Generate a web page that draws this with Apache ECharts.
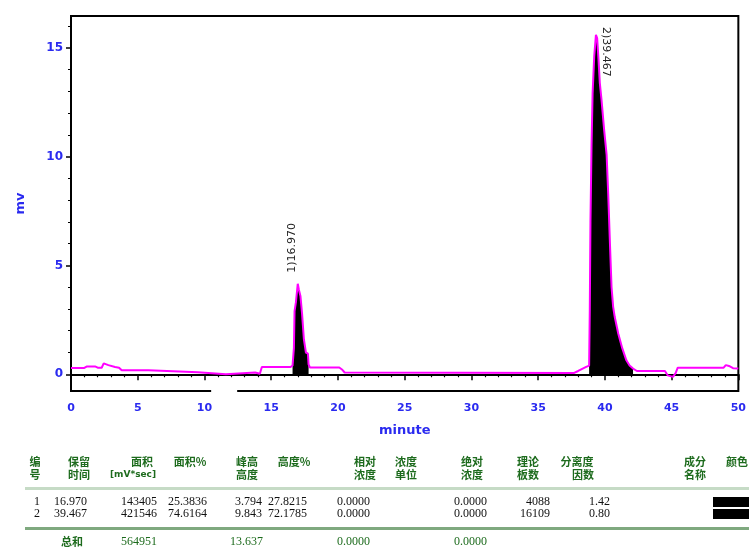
<!DOCTYPE html>
<html><head><meta charset="utf-8">
<script src="https://cdn.jsdelivr.net/npm/echarts@6/dist/echarts.min.js"></script>
<style>html,body{margin:0;padding:0;background:#fff}#c{width:749px;height:547px}</style>
</head><body><div id="c"></div>
<script>
// ---- chromatogram trace (minutes, mV) ----
const times = [0,1.0,1.2,1.8,2.0,2.3,2.45,2.8,3.3,3.6,3.8,5.8,5.85,5.9,9.5,9.55,11.6,11.7,13.8,13.85,14.15,14.3,16.45,16.6,16.7,16.75,16.85,16.99,17.07,17.19,17.31,17.45,17.6,17.75,17.8,17.9,20.1,20.3,20.5,37.7,38.0,38.3,38.6,38.82,38.87,38.92,39.0,39.08,39.2,39.33,39.42,39.52,39.62,39.75,39.95,40.13,40.25,40.38,40.5,40.62,40.74,41.0,41.3,41.61,41.85,42.11,42.4,44.5,44.7,45.1,45.3,45.46,48.9,49.06,49.3,49.6,50.0];
const signal = [0.29,0.29,0.36,0.36,0.30,0.30,0.50,0.42,0.33,0.30,0.18,0.18,0.25,0.10,0.09,0.0,0.0,0.08,0.08,0.02,0.02,0.33,0.33,0.40,1.2,2.9,3.3,4.16,3.9,3.6,2.8,1.6,1.0,0.95,0.45,0.31,0.31,0.22,0.08,0.06,0.15,0.25,0.34,0.40,3.0,7.0,10.5,12.9,14.6,15.6,15.45,14.5,13.4,12.6,11.2,10.1,8.3,6.0,4.0,3.1,2.63,1.87,1.2,0.64,0.4,0.26,0.15,0.15,-0.05,-0.12,0.05,0.30,0.30,0.42,0.38,0.28,0.26];
// integration windows (start, end) of the two peaks
const peakStart = [16.6, 38.82];
const peakEnd = [17.8, 42.11];
// axis
const xTicks = [0,5,10,15,20,25,30,35,40,45,50];
const yTicks = [0,5,10,15];
const yMinorTicks = [1,2,3,4,6,7,8,9,11,12,13,14,16];
const xAxisBreak = [10.5, 12.45];
// ---- result table ----
const peakNo = ['1','2'];
const retTime = ['16.970','39.467'];
const area = ['143405','421546'];
const areaPct = ['25.3836','74.6164'];
const peakHeight = ['3.794','9.843'];
const heightPct = ['27.8215','72.1785'];
const relConc = ['0.0000','0.0000'];
const absConc = ['0.0000','0.0000'];
const plates = ['4088','16109'];
const resolution = ['1.42','0.80'];
const totalLabel = '总和';
const totalArea = '564951';
const totalHeight = '13.637';
const totalRelConc = '0.0000';
const totalAbsConc = '0.0000';
const headerLine1 = ['编','保留','面积','面积%','峰高','高度%','相对','浓度','绝对','理论','分离度','成分','颜色'];
const headerLine2 = ['号','时间','[mV*sec]','','高度','','浓度','单位','浓度','板数','因数','名称',''];

const BLUE = '#2a2af0';
const trace = times.map((t, i) => [t, signal[i]]);
const peakSeries = peakStart.map((s, k) => ({
  type: 'line', data: trace.filter(p => p[0] >= s && p[0] <= peakEnd[k]),
  showSymbol: false, silent: true, z: 2,
  lineStyle: { width: 0, color: '#000' },
  areaStyle: { color: '#000', opacity: 1 }
}));

const chart = echarts.init(document.getElementById('c'), null, { renderer: 'canvas' });
chart.setOption({
  animation: false,
  grid: { left: 71, right: 6, top: 16, bottom: 156, show: true, borderColor: '#000', borderWidth: 2, backgroundColor: 'transparent' },
  xAxis: {
    type: 'value', min: 0, max: 50, interval: 5,
    name: 'minute', nameLocation: 'middle', nameGap: 33,
    nameTextStyle: { color: BLUE, fontWeight: 'bold', fontSize: 13, fontFamily: 'DejaVu Sans' },
    axisLine: { lineStyle: { color: '#000', width: 2 } },
    axisTick: { length: 6, lineStyle: { color: '#000', width: 1.5 } },
    minorTick: { show: true, splitNumber: 5, length: 3, lineStyle: { color: '#000', width: 1.2 } },
    splitLine: { show: false },
    axisLabel: { color: BLUE, fontWeight: 'bold', fontSize: 11, fontFamily: 'DejaVu Sans', margin: 12, customValues: xTicks }
  },
  yAxis: [{
    type: 'value', min: -0.77, max: 16.47,
    name: 'mv', nameLocation: 'middle', nameGap: 44,
    nameTextStyle: { color: BLUE, fontWeight: 'bold', fontSize: 13, fontFamily: 'DejaVu Sans' },
    axisLine: { lineStyle: { color: '#000', width: 2 } },
    axisTick: { length: 5, lineStyle: { color: '#000', width: 1.5 }, customValues: yTicks },
    splitLine: { show: false },
    axisLabel: { color: BLUE, fontWeight: 'bold', fontSize: 12, fontFamily: 'DejaVu Sans', margin: 8, customValues: yTicks }
  }, {
    type: 'value', min: -0.77, max: 16.47, position: 'left',
    axisLine: { show: false }, axisLabel: { show: false }, splitLine: { show: false },
    axisTick: { length: 3, lineStyle: { color: '#000', width: 1 }, customValues: yMinorTicks }
  }],
  series: peakSeries.concat([{
    type: 'line', data: trace, showSymbol: false, silent: true, z: 3,
    lineStyle: { color: '#ff00ff', width: 2 }
  }])
});

// ---- annotations & table ----
const px = p => chart.convertToPixel({ gridIndex: 0 }, p);
const g = [];
// axis break
const b0 = px([xAxisBreak[0], -0.77]), b1 = px([xAxisBreak[1], -0.77]);
g.push({ type: 'rect', shape: { x: b0[0], y: b0[1] - 2, width: b1[0] - b0[0], height: 9 }, style: { fill: '#fff' }, z: 100 });
// peak labels
peakStart.forEach((s, k) => {
  const pts = trace.filter(p => p[0] >= s && p[0] <= peakEnd[k]);
  const apex = pts.reduce((a, b) => (b[1] > a[1] ? b : a));
  const a = px(apex);
  const up = k === 0;
  g.push({
    type: 'text', x: a[0] + (up ? -6 : 10), y: a[1] + (up ? -11 : -8),
    rotation: up ? Math.PI / 2 : -Math.PI / 2, z: 100,
    style: { text: peakNo[k] + ')' + retTime[k], fill: '#222', font: '11px "DejaVu Sans"', align: 'left', verticalAlign: 'middle' }
  });
});
// table headers
const hx1 = [35, 79, 142, 190, 247, 294, 365, 406, 472, 528, 577, 695, 737];
const hx2 = [35, 79, 133, 190, 247, 294, 365, 406, 472, 528, 583, 695, 737];
const GREEN = '#1d6b1d';
const hFont = 'bold 11px "Noto Sans CJK SC"';
headerLine1.forEach((t, i) => g.push({ type: 'text', x: hx1[i], y: 462, style: { text: t, fill: GREEN, font: hFont, align: 'center', verticalAlign: 'middle' } }));
headerLine2.forEach((t, i) => t && g.push({ type: 'text', x: hx2[i], y: 475, style: { text: t, fill: GREEN, font: t.startsWith('[') ? 'bold 9px "DejaVu Sans"' : hFont, align: 'center', verticalAlign: 'middle' } }));
// rules
g.push({ type: 'rect', shape: { x: 25, y: 487, width: 724, height: 3 }, style: { fill: '#c6dbc6' } });
g.push({ type: 'rect', shape: { x: 25, y: 527, width: 724, height: 3 }, style: { fill: '#7fa97f' } });
// rows
const cols = [peakNo, retTime, area, areaPct, peakHeight, heightPct, relConc, absConc, plates, resolution];
const colX = [40, 87, 157, 207, 262, 307, 370, 487, 550, 610];
const rowY = [502, 514];
const dFont = '12px "Liberation Serif"';
cols.forEach((col, c) => col.forEach((v, r) => g.push({ type: 'text', x: colX[c], y: rowY[r], style: { text: v, fill: '#111', font: dFont, align: 'right', verticalAlign: 'middle' } })));
peakNo.forEach((v, r) => g.push({ type: 'rect', shape: { x: 713, y: rowY[r] - 5, width: 36, height: 10 }, style: { fill: '#000' } }));
// totals
g.push({ type: 'text', x: 72, y: 542, style: { text: totalLabel, fill: GREEN, font: 'bold 11px "Noto Sans CJK SC"', align: 'center', verticalAlign: 'middle' } });
[[totalArea, 157], [totalHeight, 263], [totalRelConc, 370], [totalAbsConc, 487]].forEach(([v, x]) =>
  g.push({ type: 'text', x: x, y: 542, style: { text: v, fill: GREEN, font: dFont, align: 'right', verticalAlign: 'middle' } }));
chart.setOption({ graphic: g });
</script></body></html>
